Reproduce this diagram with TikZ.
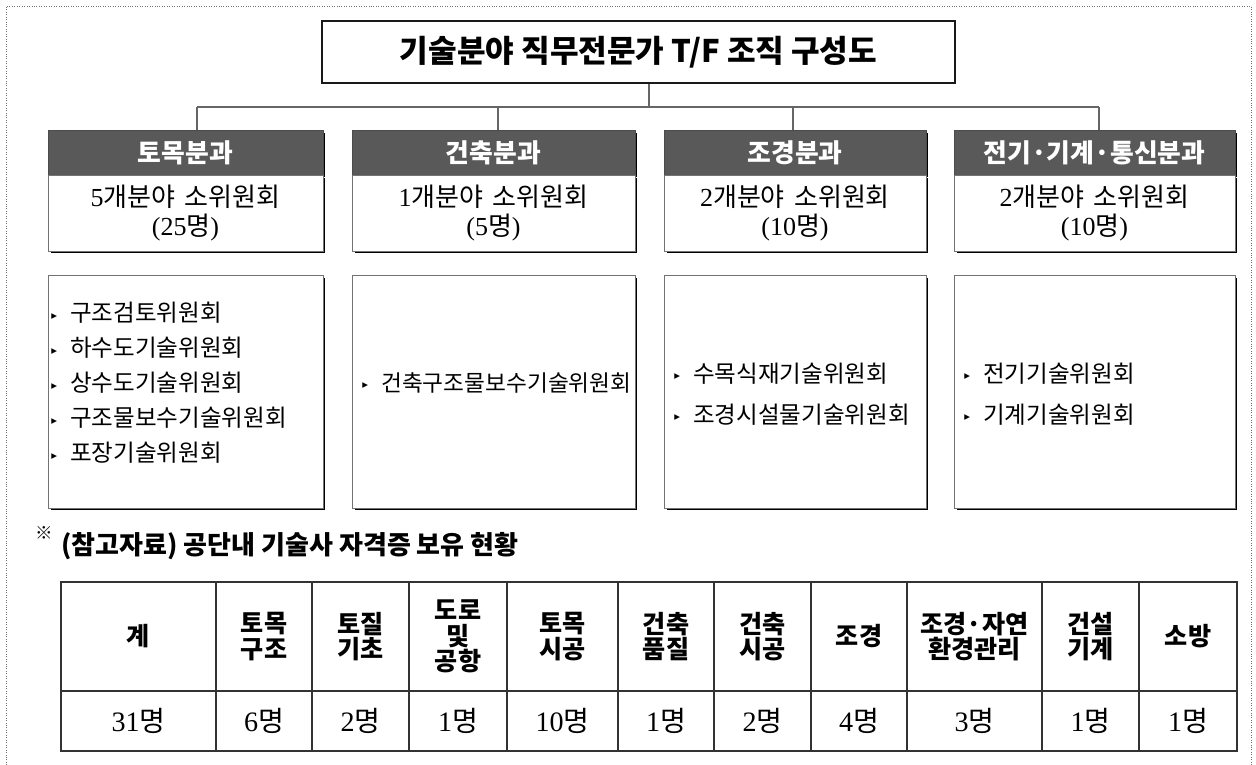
\documentclass[tikz,border=0pt]{standalone}
\usepackage{fontspec}
\setmainfont{Noto Sans CJK KR}
\newfontfamily\numfont{Liberation Serif}
\newfontfamily\symfont{DejaVu Sans}
\usetikzlibrary{shadows}

\def\dg#1{{\numfont #1}}
\def\bul{\raisebox{1.5pt}{\symfont\fontsize{6.5}{6.5}\selectfont ▸}\hspace{7.5pt}}

\begin{document}
\begin{tikzpicture}[x=0.02cm,y=-0.02cm]
        \tikzstyle{shade box}=[draw=black!55, line width=0.5pt, fill=white, drop shadow={shadow xshift=0.05cm, shadow yshift=-0.05cm, fill=black, opacity=1}]
        \tikzstyle{head}=[shade box, fill=black!65, draw=black!70, text=white, minimum height=0.9cm, inner sep=0pt, font=\fontsize{14.7}{17}\selectfont\bfseries]
        \tikzstyle{count}=[shade box, align=center, minimum height=1.52cm, inner sep=0pt, font=\fontsize{14.8}{16.8}\selectfont]
        \tikzstyle{list}=[shade box, minimum height=4.66cm]
        \tikzstyle{item}=[anchor=west, align=left, inner sep=0pt]
        \tikzstyle{link}=[draw=black!60, line width=0.6pt]
        \tikzstyle{cell}=[align=center, inner sep=0pt, font=\fontsize{14.3}{14.6}\selectfont\bfseries]
        \tikzstyle{num}=[inner sep=0pt, font=\fontsize{16}{16}\selectfont]

        \useasboundingbox (0,0) rectangle (1256,764);
        \draw[densely dotted, black!55] (6,770) -- (6,6) -- (1251,6) -- (1251,770);

        % Title
        \node[draw=black!90, line width=1pt, minimum width=12.66cm, minimum height=1.24cm, font=\fontsize{17.7}{20}\selectfont\bfseries] (ttl) at (638.5,52) {기술분야 직무전문가 T/F 조직 구성도};

        % Draw the four divisions
        \foreach \i/\x/\w/\name/\n/\m in {1/185.5/5.5/토목분과/5/25, 2/493.5/5.66/건축분과/1/5, 3/795/5.24/조경분과/2/10, 4/1094.5/5.62/{전기·기계·통신분과}/2/10}
        {
            \node[head, minimum width=\w cm] (hd\i) at (\x,152.5) {\name};
            \node[count, minimum width=\w cm] (sub\i) at (\x,213) {\dg{\n}개분야\hspace{2pt} 소위원회\\\dg{(\m}명\dg{)}};
            \node[list, minimum width=\w cm] (box\i) at (\x,391.5) {};
        }

        % Committees of each division
        \node[item, font=\fontsize{13.4}{19.9}\selectfont] (lst1) at (51,383) {\bul 구조검토위원회\\\bul 하수도기술위원회\\\bul 상수도기술위원회\\\bul 구조물보수기술위원회\\\bul 포장기술위원회};
        \node[item, font=\fontsize{12.9}{19.9}\selectfont] (lst2) at (362,383) {\bul 건축구조물보수기술위원회};
        \node[item, font=\fontsize{13.4}{23.3}\selectfont] (lst3) at (674,394) {\bul 수목식재기술위원회\\\bul 조경시설물기술위원회};
        \node[item, font=\fontsize{13.4}{23.3}\selectfont] (lst4) at (964,394) {\bul 전기기술위원회\\\bul 기계기술위원회};

        % Connect the title with the divisions
        \coordinate (j0) at (649,107);
        \foreach \i/\x in {1/197, 2/498, 3/793, 4/1099}
        {
            \coordinate (j\i) at (\x,107);
            \draw[link] (j\i) -- (j\i |- hd\i.north);
        }
        \draw[link] (j1) -- (j4);
        \draw[link] (j0 |- ttl.south) -- (j0);

        % Reference table
        \node[font=\fontsize{10}{10}\selectfont] (mark) at (44,533) {※};
        \node[anchor=west, inner sep=0pt, font=\fontsize{14.8}{17}\selectfont\bfseries] (note) at (61,546) {(참고자료) 공단내 기술사 자격증 보유 현황};

        \draw[black!80, line width=0.6pt] (61,582) rectangle (1237,751);
        \draw[black!80, line width=0.6pt] (61,691) -- (1237,691);
        \foreach \l/\r/\t/\v [count=\k] in {61/216/{계}/31, 216/312/{토목\\구조}/6, 312/409/{토질\\기초}/2, 409/507/{도로\\및\\공항}/1, 507/618/{토목\\시공}/10, 618/714/{건축\\품질}/1, 714/811/{건축\\시공}/2, 811/907/{조경}/4, 907/1042/{조경·자연\\환경관리}/3, 1042/1139/{건설\\기계}/1, 1139/1237/{소방}/1}
        {
            \draw[black!80, line width=0.6pt] (\r,582) -- (\r,751);
            \node[cell] (h\k) at ({(\l+\r)/2},636.5) {\t};
            \node[num] (v\k) at ({(\l+\r)/2},721) {\dg{\v}명};
        }
\end{tikzpicture}
\end{document}
